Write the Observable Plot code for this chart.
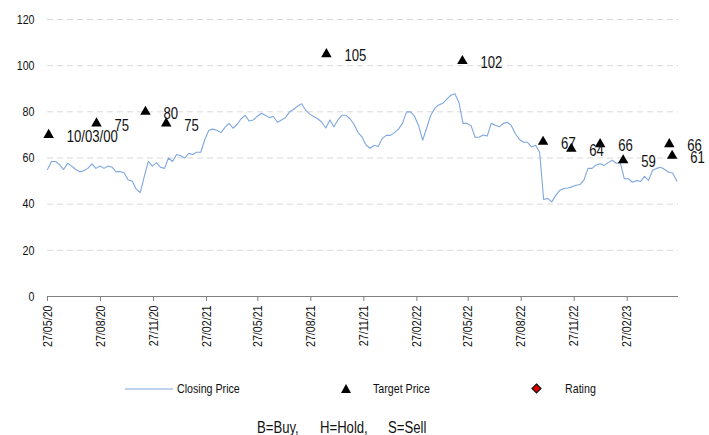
<!DOCTYPE html>
<html>
<head>
<meta charset="utf-8">
<script src="https://cdn.jsdelivr.net/npm/d3@7"></script>
<script src="https://cdn.jsdelivr.net/npm/@observablehq/plot@0.6"></script>
<style>
  html, body { margin: 0; padding: 0; background: #fff; }
  body { width: 709px; height: 435px; overflow: hidden; font-family: "Liberation Sans", Arial, sans-serif; color: #111; }
  #wrap { position: relative; width: 709px; height: 435px; }
  #chart svg { display: block; }
  .lg { position: absolute; font-size: 13px; line-height: 14px; white-space: nowrap; }
  .narrow { transform: scaleX(0.82); transform-origin: 0 50%; }
  .foot { position: absolute; top: 419px; font-size: 16px; line-height: 18px; white-space: nowrap; }
</style>
</head>
<body>
<div id="wrap">
  <div id="chart"></div>
  <svg class="lg" style="left:125px;top:388px" width="48" height="2"><line x1="0" y1="1" x2="48" y2="1" stroke="#7ea7de" stroke-width="1"/></svg>
  <div class="lg narrow" style="left:177px;top:382px">Closing Price</div>
  <svg class="lg" style="left:340px;top:383px" width="12" height="12"><path d="M6,1 L11,10 L1,10 Z" fill="#000"/></svg>
  <div class="lg narrow" style="left:373px;top:382px">Target Price</div>
  <svg class="lg" style="left:531px;top:383px" width="11" height="11"><path d="M5.5,1 L10,5.5 L5.5,10 L1,5.5 Z" fill="#e00000" stroke="#111" stroke-width="1.2"/></svg>
  <div class="lg narrow" style="left:565px;top:382px">Rating</div>
  <div class="foot narrow" style="left:257px">B=Buy,</div>
  <div class="foot narrow" style="left:320px">H=Hold,</div>
  <div class="foot narrow" style="left:388px">S=Sell</div>
</div>
<script>
// Weekly closing prices starting 27 May 2020
const priceStart = "2020-05-27";
const closePrices = [
  55.0, 58.5, 58.5, 57.0, 55.0, 57.7, 56.5, 55.0, 54.0, 54.5,
  55.5, 57.5, 55.5, 56.5, 55.5, 56.5, 56.0, 54.0, 54.2, 53.5,
  50.5, 50.0, 46.5, 45.0, 52.0, 58.5, 56.5, 58.0, 56.0, 55.5,
  60.0, 58.5, 61.5, 61.0, 60.0, 62.0, 61.5, 62.5, 62.5, 68.0,
  72.0, 72.5, 72.0, 71.0, 73.3, 75.0, 72.9, 74.5, 77.0, 78.5,
  76.0, 76.5, 78.0, 79.4, 78.5, 77.5, 78.0, 75.5, 76.5, 77.5,
  80.0, 81.0, 82.5, 83.5, 80.7, 79.0, 78.0, 77.0, 75.5, 73.0,
  76.5, 73.5, 76.5, 78.5, 78.5, 77.0, 74.5, 71.0, 69.0, 65.5,
  64.2, 65.5, 65.0, 68.5, 69.8, 69.8, 71.0, 72.5, 75.0, 80.0,
  80.0, 78.0, 74.0, 67.7, 73.0, 78.5, 81.5, 83.0, 83.7, 85.5,
  87.2, 87.8, 84.0, 75.0, 75.0, 74.0, 69.0, 69.0, 70.0, 69.5,
  75.0, 74.2, 73.5, 75.0, 75.5, 74.0, 70.5, 68.0, 66.8, 66.8,
  64.8, 65.5, 62.5, 42.0, 42.5, 41.0, 43.8, 46.0, 46.8, 47.0,
  47.5, 48.2, 48.5, 50.5, 55.5, 55.5, 57.0, 57.5, 56.8, 58.0,
  59.0, 57.7, 58.0, 51.0, 51.0, 49.5, 50.3, 49.8, 52.0, 50.3,
  54.7, 55.5, 56.0, 55.0, 53.8, 53.5, 50.0
];

// Target price changes
const targetDates = [
  "2020-05-29", "2020-08-20", "2020-11-13", "2020-12-19", "2021-09-23", "2022-05-17",
  "2022-10-04", "2022-11-22", "2023-01-11", "2023-02-20", "2023-05-11", "2023-05-16"
];
const targetValues = [70, 75, 80, 75, 105, 102, 67, 64, 66, 59, 66, 61];
const targetLabels = ["10/03/00", "75", "80", "75", "105", "102", "67", "64", "66", "59", "66", "61"];

// Axis ticks
const xTickDates = [
  "2020-05-27", "2020-08-27", "2020-11-27", "2021-02-27", "2021-05-27", "2021-08-27",
  "2021-11-27", "2022-02-27", "2022-05-27", "2022-08-27", "2022-11-27", "2023-02-27"
];
const yTicks = [0, 20, 40, 60, 80, 100, 120];
const xDomain = ["2020-05-27", "2023-05-27"];

const start = new Date(priceStart);
const prices = closePrices.map((v, i) => ({ date: d3.utcDay.offset(start, 7 * i), close: v }));
const targets = targetDates.map((d, i) => ({ date: new Date(d), value: targetValues[i], label: targetLabels[i] }));

const chart = Plot.plot({
  width: 709,
  height: 370,
  marginTop: 19,
  marginBottom: 74,
  marginLeft: 47,
  marginRight: 31,
  style: { fontFamily: '"Liberation Sans", Arial, sans-serif', color: "#111", background: "#fff" },
  x: { type: "utc", domain: xDomain.map((d) => new Date(d)) },
  y: { domain: [0, 120] },
  marks: [
    Plot.gridY(yTicks.filter((t) => t > 0), { stroke: "#d9d9d9", strokeOpacity: 1, strokeDasharray: "6,4" }),
    Plot.ruleY([0], { stroke: "#7f7f7f", strokeWidth: 1.2 }),
    Plot.axisY(yTicks, { tickSize: 0, tickPadding: 13, fontSize: 13, label: null }),
    Plot.axisX(xTickDates.map((d) => new Date(d)), {
      tickFormat: d3.utcFormat("%d/%m/%y"),
      tickRotate: -90,
      tickSize: 5,
      tickPadding: 4,
      stroke: "#7f7f7f",
      fontSize: 13,
      label: null
    }),
    Plot.line(prices, { x: "date", y: "close", stroke: "#7ea7de", strokeWidth: 1.1 }),
    Plot.dot(targets, { x: "date", y: "value", symbol: "triangle", r: 3.9, fill: "#000", stroke: "none" }),
    Plot.text(targets, { x: "date", y: "value", text: "label", textAnchor: "start", dx: 18, dy: 2, fontSize: 16, fill: "#111" })
  ]
});

document.getElementById("chart").appendChild(chart);

// Condensed lettering: squeeze every chart text along its baseline
chart.querySelectorAll("text").forEach((t) => {
  const w = t.getComputedTextLength();
  if (w > 0) {
    t.setAttribute("textLength", (w * 0.82).toFixed(1));
    t.setAttribute("lengthAdjust", "spacingAndGlyphs");
  }
});
</script>
</body>
</html>
